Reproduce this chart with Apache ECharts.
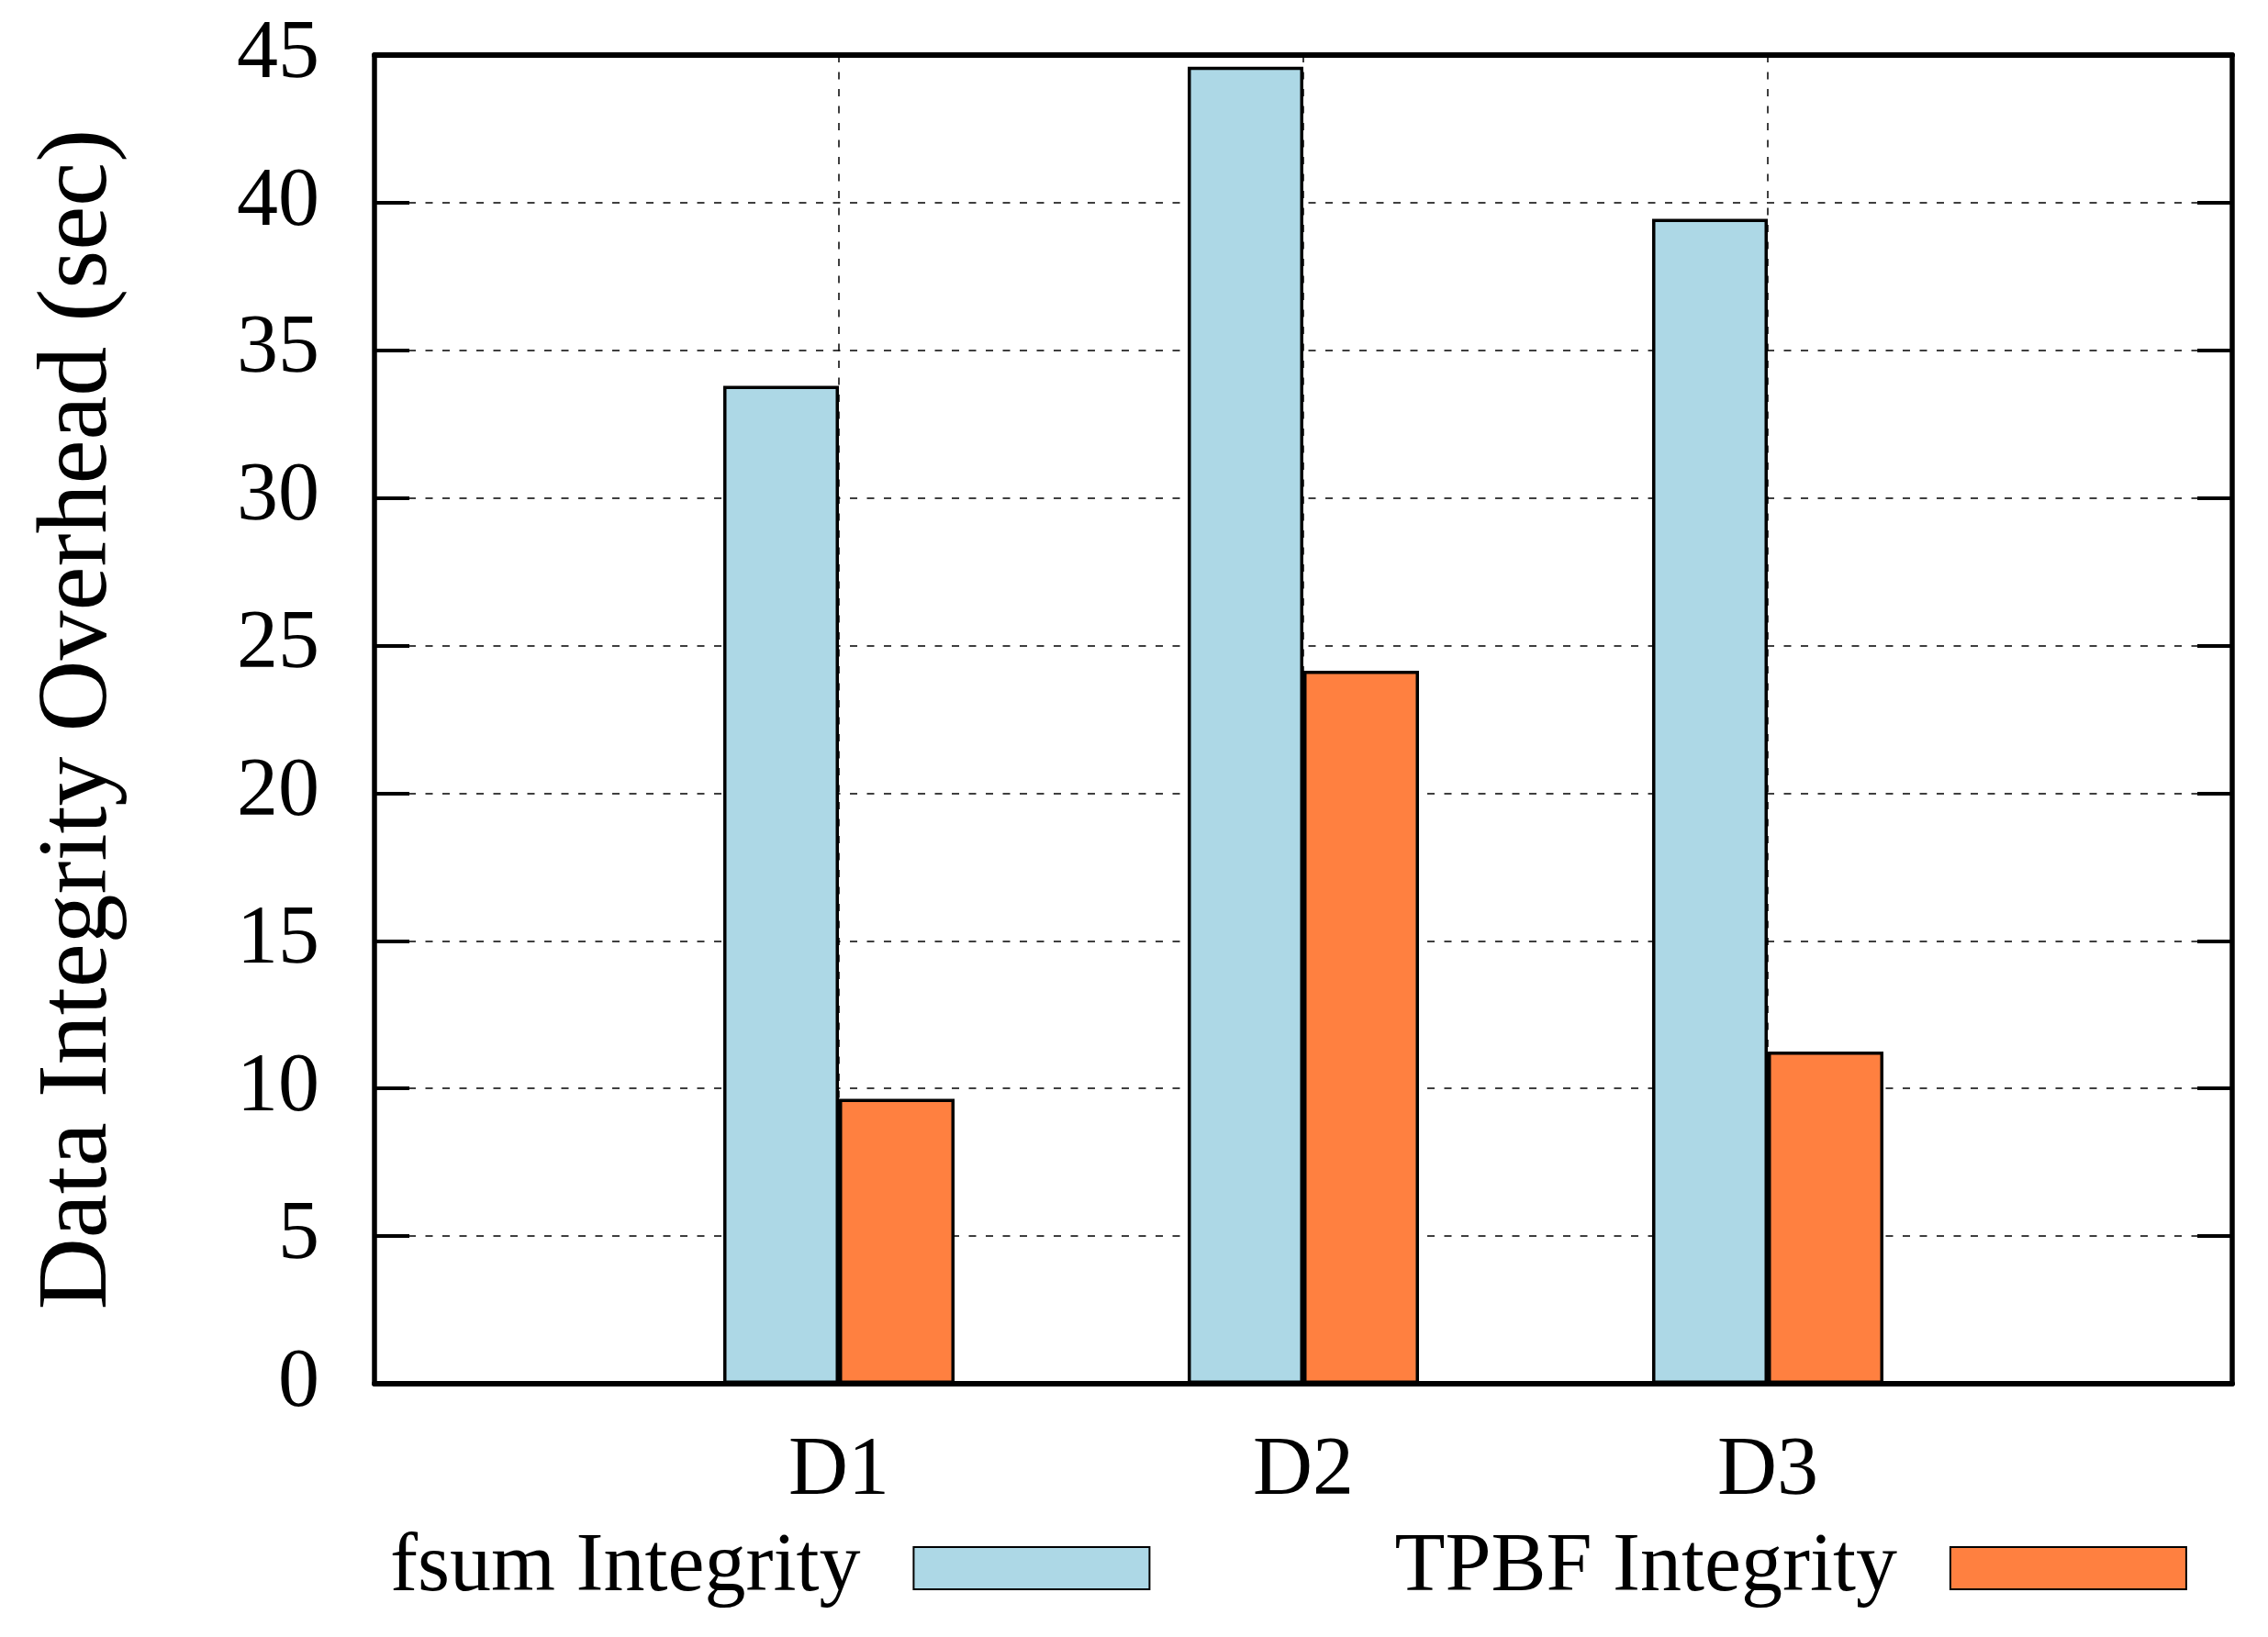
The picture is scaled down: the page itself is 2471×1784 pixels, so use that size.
<!DOCTYPE html>
<html><head><meta charset="utf-8">
<script src="https://cdn.jsdelivr.net/npm/echarts@6/dist/echarts.min.js"></script>
<style>html,body{margin:0;padding:0;background:#fff}#c{width:2471px;height:1784px}</style>
</head><body><div id="c"></div>
<script>
const categories = ['', 'D1', 'D2', 'D3', ' '];
const fsumValues = [null, 33.8, 44.6, 39.45, null];
const tpbfValues = [null, 9.65, 24.15, 11.25, null];
const seriesNames = ['fsum Integrity', 'TPBF Integrity'];
const yMin = 0, yMax = 45, yInterval = 5;
const yTitle = 'Data Integrity Overhead (sec)';

const FONT = 'Liberation Serif';
const chart = echarts.init(document.getElementById('c'), null, {renderer: 'canvas'});
const dashed = {color: '#000', width: 1.5, type: [8, 10.5]};
chart.setOption({
  backgroundColor: '#fff',
  animation: false,
  grid: {left: 408, right: 2471 - 2432, top: 60, bottom: 1784 - 1508, containLabel: false},
  legend: {
    data: seriesNames,
    left: 425, top: 1664, padding: 0,
    align: 'right', orient: 'horizontal',
    itemWidth: 257, itemHeight: 46, itemGap: 266,
    icon: 'rect',
    textStyle: {fontFamily: FONT, fontSize: 90, color: '#000', padding: [0, 53, 0, 0]},
    selectedMode: false
  },
  xAxis: [{
    type: 'category', data: categories, boundaryGap: false, position: 'bottom', z: 3,
    axisLine: {show: true, onZero: false, lineStyle: {color: '#000', width: 6}},
    axisTick: {show: false},
    axisLabel: {fontFamily: FONT, fontSize: 90, color: '#000', margin: 51, interval: 0},
    splitLine: {show: true, lineStyle: dashed}
  }, {
    type: 'category', data: categories, boundaryGap: false, position: 'top', z: 3,
    axisLine: {show: true, onZero: false, lineStyle: {color: '#000', width: 6}},
    axisTick: {show: false}, axisLabel: {show: false}, splitLine: {show: false}
  }],
  yAxis: [{
    type: 'value', min: yMin, max: yMax, interval: yInterval, position: 'left',
    name: yTitle, nameLocation: 'middle', nameGap: 267, nameRotate: 90,
    nameTextStyle: {fontFamily: FONT, fontSize: 108, color: '#000'},
    axisLine: {show: true, onZero: false, lineStyle: {color: '#000', width: 5.5}},
    axisTick: {show: true, inside: true, length: 38, lineStyle: {color: '#000', width: 4}},
    axisLabel: {fontFamily: FONT, fontSize: 90, color: '#000', margin: 60},
    splitLine: {show: true, lineStyle: dashed}
  }, {
    type: 'value', min: yMin, max: yMax, interval: yInterval, position: 'right',
    axisLine: {show: true, onZero: false, lineStyle: {color: '#000', width: 5.5}},
    axisTick: {show: true, inside: true, length: 38, lineStyle: {color: '#000', width: 4}},
    axisLabel: {show: false}, splitLine: {show: false}
  }],
  series: [{
    name: seriesNames[0], type: 'bar', data: fsumValues, barWidth: 126, barGap: '0%',
    itemStyle: {color: '#add8e6', borderColor: '#000', borderWidth: 3.5}
  }, {
    name: seriesNames[1], type: 'bar', data: tpbfValues, barWidth: 126, barGap: '0%',
    itemStyle: {color: '#ff8040', borderColor: '#000', borderWidth: 3.5}
  }]
});
</script></body></html>
